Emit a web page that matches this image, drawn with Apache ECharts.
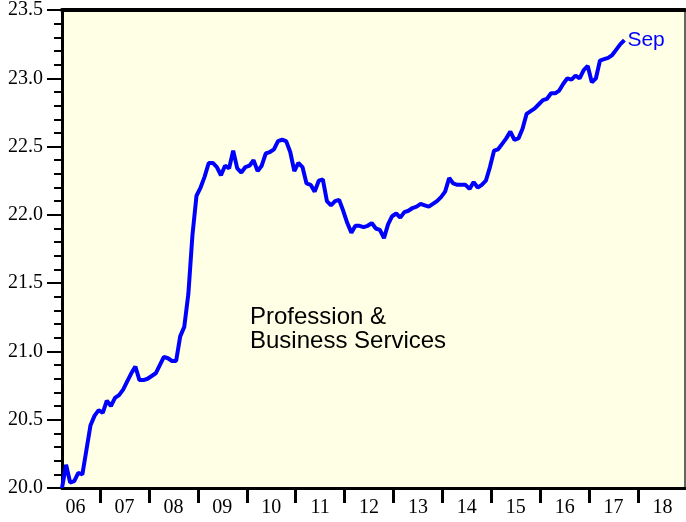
<!DOCTYPE html>
<html>
<head>
<meta charset="utf-8">
<script src="https://cdn.jsdelivr.net/npm/echarts@6/dist/echarts.min.js"></script>
<style>
  html, body { margin: 0; padding: 0; background: #fff; }
  #chart { width: 686px; height: 522px; }
</style>
</head>
<body>
<div id="chart"></div>
<script>
// monthly employment (millions), Mar 2006 .. Sep 2017
const startYear = 2006;
const startMonth = 3;
const values = [
  20.00, 20.17, 20.04, 20.05, 20.11, 20.10, 20.28, 20.46, 20.53, 20.57,
  20.55, 20.64, 20.60, 20.66, 20.68, 20.72, 20.78, 20.84, 20.89, 20.79,
  20.79, 20.80, 20.82, 20.84, 20.90, 20.96, 20.95, 20.93, 20.93, 21.11,
  21.18, 21.42, 21.85, 22.14, 22.20, 22.28, 22.38, 22.38, 22.35, 22.29,
  22.36, 22.34, 22.47, 22.34, 22.31, 22.35, 22.36, 22.40, 22.32, 22.36,
  22.45, 22.46, 22.48, 22.54, 22.55, 22.54, 22.46, 22.32, 22.38, 22.35,
  22.23, 22.22, 22.17, 22.25, 22.26, 22.10, 22.07, 22.10, 22.11, 22.03,
  21.94, 21.87, 21.92, 21.92, 21.91, 21.92, 21.94, 21.90, 21.89, 21.83,
  21.93, 21.99, 22.01, 21.98, 22.02, 22.03, 22.05, 22.06, 22.08, 22.07,
  22.06, 22.08, 22.10, 22.13, 22.17, 22.27, 22.23, 22.22, 22.22, 22.22,
  22.19, 22.24, 22.20, 22.22, 22.25, 22.35, 22.47, 22.48, 22.52, 22.56,
  22.61, 22.55, 22.56, 22.63, 22.74, 22.76, 22.78, 22.81, 22.84, 22.85,
  22.89, 22.89, 22.91, 22.96, 23.00, 22.99, 23.02, 23.00, 23.06, 23.09,
  22.97, 23.00, 23.13, 23.14, 23.15, 23.17, 23.21, 23.25, 23.28
];
const yearTicks = [2007, 2008, 2009, 2010, 2011, 2012, 2013, 2014, 2015, 2016, 2017, 2018];
const yearLabels = [2006, 2007, 2008, 2009, 2010, 2011, 2012, 2013, 2014, 2015, 2016, 2017, 2018];
const lastLabel = 'Sep';
const caption = 'Profession &\nBusiness Services';

const monthOffset = 0.055;
const xMin = startYear + (startMonth - 1) / 12 + monthOffset;
const xMax = 2018.96;

const seriesData = values.map((v, i) => [startYear + (startMonth - 1 + i) / 12 + monthOffset, v]);

const serif = "'Liberation Serif', 'Times New Roman', serif";
const sans = "'Liberation Sans', Arial, sans-serif";

const chart = echarts.init(document.getElementById('chart'));
chart.setOption({
  animation: false,
  grid: {
    left: 62, top: 8, right: 1, bottom: 34,
    show: true,
    backgroundColor: '#FFFFE5',
    borderColor: '#333',
    borderWidth: 1.5
  },
  xAxis: [
    {
      type: 'value',
      position: 'bottom',
      min: xMin,
      max: xMax,
      splitLine: { show: false },
      axisLine: { show: true, lineStyle: { color: '#000', width: 3 } },
      axisTick: {
        show: true,
        customValues: yearTicks,
        length: 15,
        lineStyle: { color: '#000', width: 3 }
      },
      axisLabel: {
        customValues: yearLabels.map(y => y + 0.5),
        formatter: v => String(Math.floor(v) % 100).padStart(2, '0'),
        fontFamily: serif,
        fontSize: 20,
        color: '#000',
        margin: 10
      }
    },
    {
      type: 'value',
      position: 'top',
      min: xMin,
      max: xMax,
      splitLine: { show: false },
      axisLine: { show: true, lineStyle: { color: '#000', width: 4 } },
      axisTick: { show: false },
      axisLabel: { show: false }
    }
  ],
  yAxis: {
    type: 'value',
    min: 20,
    max: 23.5,
    interval: 0.5,
    splitLine: { show: false },
    axisLine: { show: true, lineStyle: { color: '#000', width: 3 } },
    axisTick: { show: true, length: 15, lineStyle: { color: '#000', width: 2 } },
    minorTick: { show: true, splitNumber: 5, length: 8, lineStyle: { color: '#000', width: 2 } },
    minorSplitLine: { show: false },
    axisLabel: {
      formatter: v => v.toFixed(1),
      fontFamily: serif,
      fontSize: 20,
      color: '#000',
      margin: 19
    }
  },
  graphic: [
    {
      type: 'text',
      left: 250,
      top: 305,
      style: {
        text: caption,
        font: '24px ' + sans,
        fill: '#000',
        lineHeight: 24
      }
    }
  ],
  series: [
    {
      type: 'line',
      data: seriesData,
      showSymbol: false,
      lineStyle: { color: '#0000FF', width: 4 },
      itemStyle: { color: '#0000FF' },
      endLabel: {
        show: true,
        formatter: lastLabel,
        color: '#0000FF',
        fontFamily: sans,
        fontSize: 21,
        distance: 3
      }
    }
  ]
});
</script>
</body>
</html>
